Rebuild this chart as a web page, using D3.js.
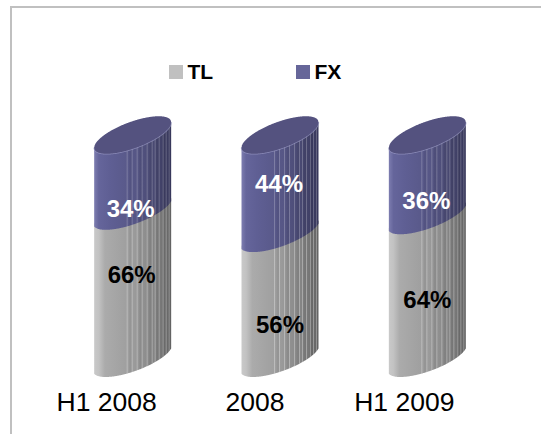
<!DOCTYPE html>
<html><head><meta charset="utf-8">
<script src="https://cdn.jsdelivr.net/npm/d3@7"></script>
<style>html,body{margin:0;padding:0;background:#fff}svg{display:block}text{font-family:"Liberation Sans",Arial,sans-serif}</style>
</head><body><svg id="c" width="541" height="434"></svg>
<script>
const categories = ["H1 2008", "2008", "H1 2009"];
const seriesNames = ["TL", "FX"];
const tlValues = [66, 56, 64];
const fxValues = [34, 44, 36];
const tlLabelY = [283, 333, 308];
const fxLabelY = [217, 192, 209];
const stripeOffsets = [33, 38, 43, 48, 53, 58, 61, 65, 69, 72, 75];

const svg = d3.select("#c");
const x = d3.scaleBand().domain(categories).range([59, 501]).paddingInner(0).paddingOuter(0);
const y = d3.scaleLinear().domain([0, 100]).range([358, 135]);
const W = 77, hw = 39.5, hh = 19, K = 513;
const slope = K / (hw * hw), b = Math.sqrt(hh * hh - K * K / (hw * hw));
const edgeFor = h => (dx, sign) => -slope * dx + sign * b * Math.sqrt(Math.max(0, 1 - dx * dx / (h * h)));
const edge = edgeFor(hw), capEdge = edgeFor(W / 2);
const dxs = d3.range(-W / 2, W / 2 + 0.01, 0.5);

const defs = svg.append("defs");
function grad(id, stops) {
  const g = defs.append("linearGradient").attr("id", id);
  stops.forEach(s => g.append("stop").attr("offset", s[0]).attr("stop-color", s[1]));
}
grad("gTL", [[0, "#c9c9c9"], [0.06, "#c2c2c2"], [0.14, "#ababab"], [0.5, "#9c9c9c"], [0.8, "#828282"], [1, "#626262"]]);
grad("gFX", [[0, "#7d7db0"], [0.06, "#65659b"], [0.2, "#5f5f94"], [0.55, "#565685"], [0.8, "#47476f"], [1, "#37375a"]]);

// frame
svg.append("path").attr("d", "M11,434V7H541").attr("fill", "none").attr("stroke", "#c0c0c0").attr("stroke-width", 2);

// legend
const legendX = d3.scaleOrdinal().domain(seriesNames).range([169, 296]);
const legendCol = d3.scaleOrdinal().domain(seriesNames).range(["#c0c0c0", "#666699"]);
seriesNames.forEach(s => {
  svg.append("rect").attr("x", legendX(s)).attr("y", 65).attr("width", 14).attr("height", 14).attr("fill", legendCol(s));
  svg.append("text").attr("x", legendX(s) + 18.5).attr("y", 79).attr("font-size", 21).attr("font-weight", 700).attr("fill", "#000").text(s);
});

function segPath(cx, yBottom, yTop) {
  const lo = dxs.map(d => [cx + d, yBottom + edge(d, 1)]);
  const up = dxs.slice().reverse().map(d => [cx + d, yTop + edge(d, 0)]);
  return d3.line()(lo.concat(up)) + "Z";
}

categories.forEach((cat, i) => {
  const cx = x(cat) + x.bandwidth() / 2;
  const left = cx - W / 2;
  const y0 = y(0), y1 = y(tlValues[i]), y2 = y(tlValues[i] + fxValues[i]);
  [["TL", y0, y1, "gTL", 0.3], ["FX", y1, y2, "gFX", 0.22]].forEach(([n, a, c, g, op], j) => {
    const id = "clip" + i + j, d = segPath(cx, a, c);
    defs.append("clipPath").attr("id", id).append("path").attr("d", d);
    svg.append("path").attr("d", d).attr("fill", `url(#${g})`);
    const G = svg.append("g").attr("clip-path", `url(#${id})`);
    stripeOffsets.forEach((o, k) => {
      G.append("line").attr("x1", left + o).attr("x2", left + o).attr("y1", c - 30).attr("y2", a + 30)
        .attr("stroke", "#fff").attr("stroke-opacity", op).attr("stroke-width", 1);
      if (k % 2) G.append("rect").attr("x", left + o - 3).attr("width", 2.5).attr("y", c - 30).attr("height", a - c + 60)
        .attr("fill", "#000").attr("opacity", 0.05);
    });
  });
  // top cap
  const capU = dxs.map(d => [cx + d, y2 + capEdge(d, -1)]);
  const capL = dxs.slice().reverse().map(d => [cx + d, y2 + capEdge(d, 1)]);
  svg.append("path").attr("d", d3.line()(capL) ).attr("fill", "none").attr("stroke", "#9a9ac4").attr("stroke-width", 1.6).attr("stroke-opacity", 0.7);
  svg.append("path").attr("d", d3.line()(capU.concat(capL)) + "Z").attr("fill", "#54527f");

  svg.append("text").attr("x", cx - (i === 0 ? 1 : 0)).attr("y", tlLabelY[i]).attr("text-anchor", "middle")
    .attr("font-size", 24).attr("font-weight", 700).attr("fill", "#000").text(tlValues[i] + "%");
  svg.append("text").attr("x", cx - (i === 0 ? 2 : 1)).attr("y", fxLabelY[i]).attr("text-anchor", "middle")
    .attr("font-size", 24).attr("font-weight", 700).attr("fill", "#fff").text(fxValues[i] + "%");
  svg.append("text").attr("x", cx - 25 + (i === 0 ? -1 : 0) + (i === 2 ? 2 : 0)).attr("y", 411).attr("text-anchor", "middle")
    .attr("font-size", 26.5).attr("fill", "#000").text(cat);
});
</script></body></html>
